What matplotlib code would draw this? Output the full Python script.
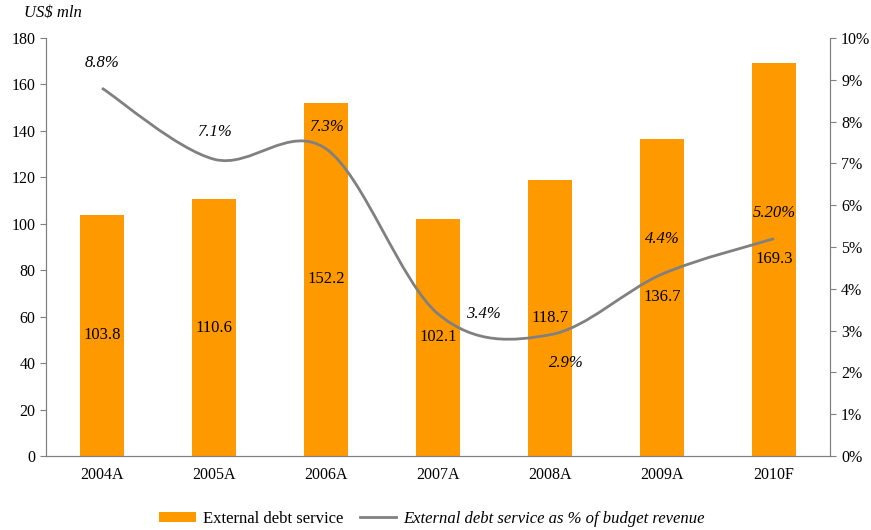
import matplotlib
matplotlib.use("Agg")
import matplotlib.pyplot as plt
from matplotlib.path import Path
from matplotlib.patches import PathPatch
from matplotlib.lines import Line2D
from matplotlib.patches import Patch
import numpy as np

categories = ["2004A", "2005A", "2006A", "2007A", "2008A", "2009A", "2010F"]
debt_service = [103.8, 110.6, 152.2, 102.1, 118.7, 136.7, 169.3]
pct_line = [8.8, 7.1, 7.35, 3.4, 2.9, 4.35, 5.2]
pct_labels = ["8.8%", "7.1%", "7.3%", "3.4%", "2.9%", "4.4%", "5.20%"]
label_offsets = [(0, 25), (0, 27), (0, 22), (45, 0), (16, -28), (0, 35), (0, 26)]

plt.rcParams['font.family'] = ['Liberation Serif', 'DejaVu Serif']

fig = plt.figure(figsize=(8.71, 5.30), dpi=100)
ax = fig.add_axes([46/871, 74/530, 784/871, 418/530])
ax2 = ax.twinx()

x = np.arange(len(categories))
ax.bar(x, debt_service, width=0.4, color="#FF9900", zorder=2)
for xi, v in zip(x, debt_service):
    ax.text(xi, v / 2, f"{v:.1f}", ha="center", va="center", fontsize=12, color="black", zorder=5)

ax.set_xlim(-0.5, len(categories) - 0.5)
ax.set_ylim(0, 180)
ax.set_yticks(np.arange(0, 181, 20))
ax.set_xticks(x)
ax.set_xticklabels(categories)
ax2.set_ylim(0, 10)
ax2.set_yticks(np.arange(0, 11, 1))
ax2.set_yticklabels([f"{i}%" for i in range(11)])

for a in (ax, ax2):
    for s in a.spines.values():
        s.set_color("#808080")
    a.spines["top"].set_visible(False)
    a.tick_params(colors="black", labelsize=11.5, length=4, width=0.8)
    a.tick_params(axis="y", color="#808080")
ax.tick_params(axis="x", length=0, pad=8)
ax2.tick_params(axis="y", pad=4)

# Smoothed line (Catmull-Rom style Bezier, as in spreadsheet smoothing)
pts = np.column_stack([x, pct_line]).astype(float)
n = len(pts)
verts = [tuple(pts[0])]
codes = [Path.MOVETO]
for i in range(n - 1):
    p0 = pts[i - 1] if i > 0 else pts[i]
    p1 = pts[i]
    p2 = pts[i + 1]
    p3 = pts[i + 2] if i + 2 < n else pts[i + 1]
    c1 = p1 + (p2 - p0) / 6
    c2 = p2 - (p3 - p1) / 6
    verts += [tuple(c1), tuple(c2), tuple(p2)]
    codes += [Path.CURVE4] * 3
path = Path(verts, codes)
ax2.add_patch(PathPatch(path, facecolor="none", edgecolor="#808080", lw=2.0, zorder=3))

for xi, v, lab, off in zip(x, pct_line, pct_labels, label_offsets):
    ax2.annotate(lab, (xi, v), xytext=off, textcoords="offset pixels",
                 ha="center", va="center", fontsize=12, style="italic", zorder=6)

fig.text(24/871, 1 - 13/530, "US$ mln", fontsize=12, style="italic", va="center", ha="left")

handles = [Patch(facecolor="#FF9900", edgecolor="none"),
           Line2D([0], [0], color="#808080", lw=2.0)]
leg = fig.legend(handles, ["External debt service", "External debt service as % of budget revenue"],
                 loc="center", bbox_to_anchor=(432/871, 1 - 519/530), ncol=2, frameon=False,
                 fontsize=12, handlelength=2.2, handleheight=0.6, columnspacing=1.0, handletextpad=0.4)
leg.get_texts()[1].set_style("italic")

fig.savefig("out.png", dpi=100)
